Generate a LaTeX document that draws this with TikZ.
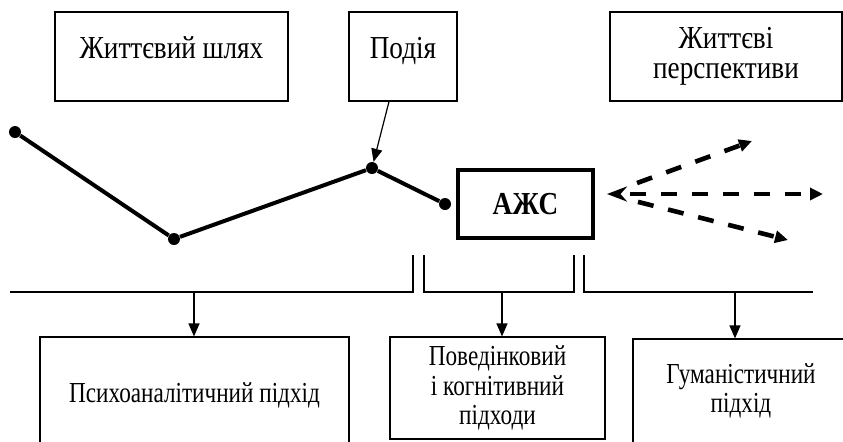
\documentclass[tikz,border=0pt]{standalone}
\usepackage{fontspec}
\setmainfont{Liberation Serif}[FakeStretch=0.85]
\newfontfamily\lowfont{Liberation Serif}[FakeStretch=0.8]
\usetikzlibrary{positioning,arrows.meta}

\begin{document}
\begin{tikzpicture}[%
            x=0.5pt,
            y=-0.5pt,
            >={Triangle[length=6.5pt,width=5.5pt]},
            font=\fontsize{16}{15}\selectfont,
            box/.style={%
            	rectangle,
            	draw,
            	line width=0.6pt,
            	align=center,
            	inner sep=0pt
            },
            topbox/.style={%
            	box,
            	minimum height=44.5pt,
            	text height=11pt,
            	text depth=9.5pt
            },
            lowbox/.style={%
            	box,
            	font=\lowfont\fontsize{14.5}{14.8}\selectfont
            },
            dot/.style={%
            	circle,
            	fill,
            	inner sep=0pt,
            	minimum size=6pt
            },
            life/.style={%
            	line width=2pt
            },
            thin/.style={%
            	line width=0.6pt
            },
            future/.style={%
            	line width=2.3pt,
            	dash pattern=on 8pt off 7.5pt
            }
            ]
            \useasboundingbox (0,0) rectangle (843,441);
            \clip (0,0) rectangle (843,441);

            % upper row
            \node[topbox, minimum width=116.5pt] (path) at (171.5,56.5) {Життєвий шлях};
            \node[topbox, minimum width=54pt] (event) at (403,56.5)    {Подія};
            \node[box, minimum width=116pt, minimum height=44.5pt] (prosp) at (726,56.5) {Життєві\\перспективи};

            % life line
            \node[dot] (p1) at (15,132)  {};
            \node[dot] (p2) at (174,239) {};
            \node[dot] (p3) at (372,168) {};
            \node[dot] (p4) at (445,204) {};
            \node[box, line width=2pt, minimum width=67.5pt, minimum height=34pt] (ajs) at (525.5,204) {\textbf{АЖС}};

            \draw[life] (p1) -- (p2) -- (p3) -- (p4);
            \draw[thin, ->] ([xshift=-7pt]event.south) -- (p3);

            % perspectives
            \coordinate (o) at (607,194);
            \coordinate (u) at (752,141);
            \coordinate (m) at (823,194);
            \coordinate (l) at (788,240);
            \draw[future, {Stealth[length=10pt,width=7.5pt]}-{Triangle[length=6.5pt,width=6pt]}, dash phase=10pt] (o) -- (m);
            \draw[future, -{Triangle[length=6.5pt,width=6pt]}, shorten <=16pt] (o) -- (u);
            \draw[future, -{Triangle[length=6.5pt,width=6pt]}, shorten <=16pt] (o) -- (l);

            % brackets
            \coordinate (b1) at (10,292);
            \coordinate (b2) at (413,255);
            \coordinate (b3) at (424,255);
            \coordinate (b4) at (574,255);
            \coordinate (b5) at (584,255);
            \coordinate (b6) at (813,292);
            \draw[thin] (b1) -| (b2);
            \draw[thin] (b3) |- (b4 |- b1) -- (b4);
            \draw[thin] (b5) |- (b6);

            % lower row
            \node[lowbox, minimum width=154.5pt, minimum height=58pt] (psych) at (194.5,395) {Психоаналітичний підхід};
            \node[lowbox, minimum width=107.5pt, minimum height=51pt] (beh) at (497.5,388)  {Поведінковий\\і когнітивний\\підходи};
            \node[lowbox, minimum width=108pt, minimum height=52pt] (hum) at (741,391)     {Гуманістичний\\підхід};

            \coordinate (s1) at (194,292);
            \coordinate (s2) at (502,292);
            \coordinate (s3) at (735,292);
            \draw[thin, ->] (s1) -- (s1 |- psych.north);
            \draw[thin, ->] (s2) -- (s2 |- beh.north);
            \draw[thin, ->] (s3) -- (s3 |- hum.north);
\end{tikzpicture}
\end{document}
